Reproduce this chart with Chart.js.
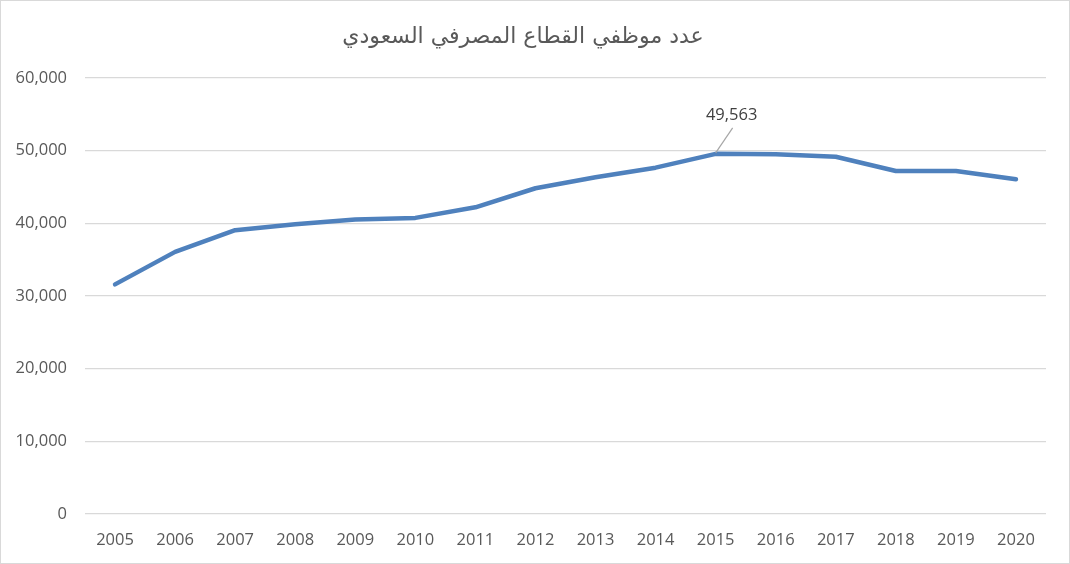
<!DOCTYPE html>
<html>
<head>
<meta charset="utf-8">
<script src="https://cdn.jsdelivr.net/npm/chart.js@4.4.0/dist/chart.umd.min.js"></script>
<style>
  html, body { margin: 0; padding: 0; background: #fff; }
  #wrap { width: 1070px; height: 564px; position: relative; }
</style>
</head>
<body>
<div id="wrap"><canvas id="chartBancos" width="1070" height="564"></canvas></div>
<script>
// Dados do gráfico
var anos = ['2005', '2006', '2007', '2008', '2009', '2010', '2011', '2012',
            '2013', '2014', '2015', '2016', '2017', '2018', '2019', '2020'];
var funcionarios = [31600, 36070, 39060, 39870, 40540, 40750, 42210, 44830,
                    46340, 47660, 49563, 49500, 49170, 47200, 47200, 46070];
var rotuloIndice = 10; // 2015 tem o rótulo de dados
var titulo = 'عدد موظفي القطاع المصرفي السعودي';

var fonteEixo = '"Open Sans", "Liberation Sans", sans-serif';

// Moldura cinza em volta do gráfico
var moldura = {
  id: 'moldura',
  beforeDraw: function (chart) {
    var ctx = chart.ctx;
    ctx.save();
    ctx.fillStyle = '#fff';
    ctx.fillRect(0, 0, chart.width, chart.height);
    ctx.strokeStyle = '#d9d9d9';
    ctx.lineWidth = 1;
    ctx.strokeRect(0.5, 0.5, chart.width - 1, chart.height - 1);
    ctx.restore();
  }
};

// Rótulo do ponto de 2015 com linha guia
var rotuloDados = {
  id: 'rotuloDados',
  afterDatasetsDraw: function (chart) {
    var ponto = chart.getDatasetMeta(0).data[rotuloIndice];
    var ctx = chart.ctx;
    var x = ponto.x, y = ponto.y;
    ctx.save();
    ctx.strokeStyle = '#a6a6a6';
    ctx.lineWidth = 1.2;
    ctx.beginPath();
    ctx.moveTo(x, y - 1);
    ctx.lineTo(x + 17, y - 26);
    ctx.stroke();
    ctx.fillStyle = '#404040';
    ctx.font = '16.5px ' + fonteEixo;
    ctx.textAlign = 'center';
    ctx.textBaseline = 'middle';
    ctx.fillText(funcionarios[rotuloIndice].toLocaleString('en-US'), x + 16, y - 39);
    ctx.restore();
  }
};

var ctx = document.getElementById('chartBancos').getContext('2d');
var grafico = new Chart(ctx, {
  type: 'line',
  data: {
    labels: anos,
    datasets: [{
      label: 'الموظفين',
      data: funcionarios,
      borderColor: '#4f81bd',
      borderWidth: 4.5,
      borderCapStyle: 'round',
      borderJoinStyle: 'round',
      pointRadius: 0,
      pointHoverRadius: 0,
      tension: 0,
      fill: false
    }]
  },
  options: {
    responsive: false,
    animation: false,
    layout: { padding: { top: 0, right: 24, bottom: 0, left: 0 } },
    plugins: {
      legend: { display: false },
      tooltip: { enabled: false },
      title: {
        display: true,
        text: titulo,
        color: '#595959',
        font: { family: '"DejaVu Sans", sans-serif', size: 22, weight: 'normal' },
        padding: { top: 24, bottom: 27.6 }
      }
    },
    scales: {
      x: {
        offset: true,
        grid: { display: false, drawTicks: false },
        border: { display: false },
        ticks: {
          color: '#595959',
          font: { family: fonteEixo, size: 16.5 },
          padding: 16,
          maxRotation: 0,
          autoSkip: false
        },
        afterFit: function (scale) { scale.height = 50; }
      },
      y: {
        min: 0,
        max: 60000,
        grid: { color: '#d9d9d9', lineWidth: 1.3, drawTicks: false },
        border: { display: false },
        ticks: {
          stepSize: 10000,
          color: '#595959',
          font: { family: fonteEixo, size: 16.5 },
          padding: 18,
          callback: function (value) { return value.toLocaleString('en-US'); }
        },
        afterFit: function (scale) { scale.width = 85; }
      }
    }
  },
  plugins: [moldura, rotuloDados]
});
</script>
</body>
</html>
